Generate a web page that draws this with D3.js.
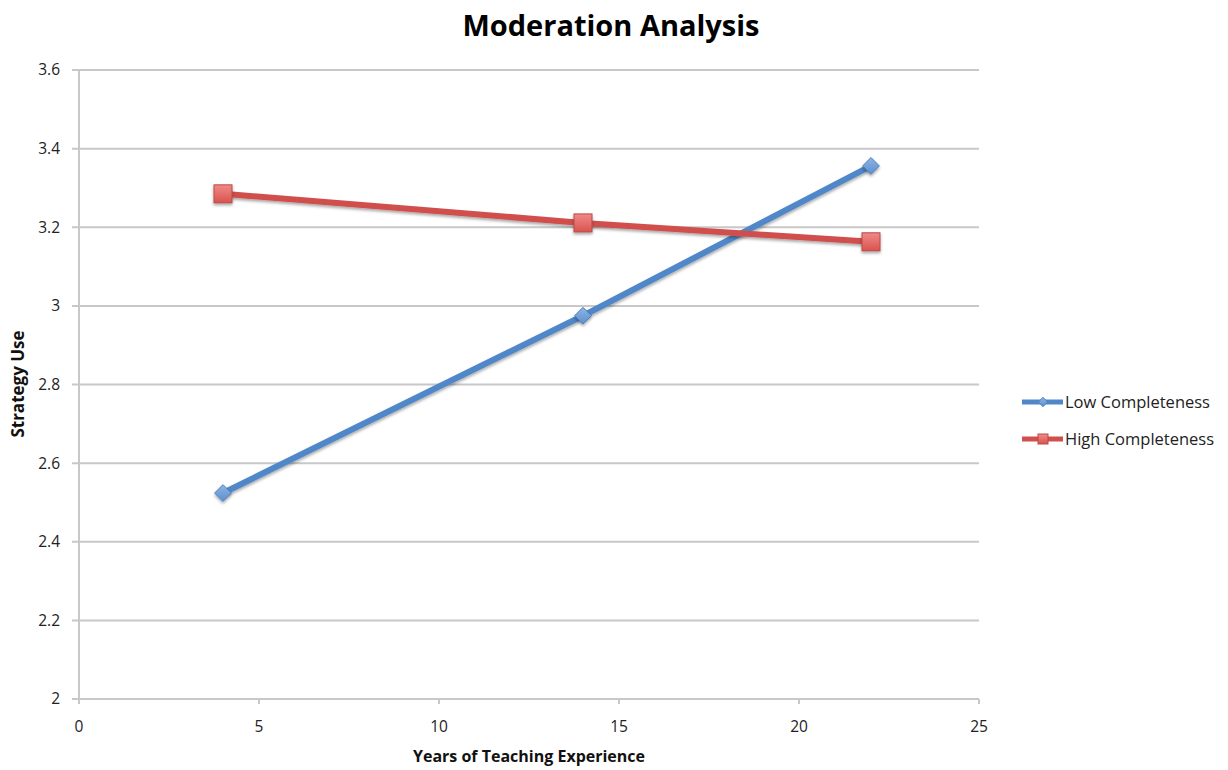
<!DOCTYPE html>
<html>
<head>
<meta charset="utf-8">
<script src="https://cdn.jsdelivr.net/npm/d3@7"></script>
<style>
  html, body { margin: 0; padding: 0; background: #fff; }
  svg { display: block; font-family: "Open Sans", "Noto Sans", sans-serif; }
</style>
</head>
<body>
<svg id="chart" width="1228" height="770"></svg>
<script>
// Years of teaching experience at which the moderation lines are evaluated
const years = [4, 14, 22];
// Predicted strategy use for each completeness group
const lowCompleteness = [2.524, 2.975, 3.356];
const highCompleteness = [3.285, 3.211, 3.163];
const seriesNames = ["Low Completeness", "High Completeness"];
const xTicks = [0, 5, 10, 15, 20, 25];
const yTicks = [2, 2.2, 2.4, 2.6, 2.8, 3, 3.2, 3.4, 3.6];

const svg = d3.select("#chart");
const plotLeft = 79, plotRight = 979, plotTop = 70, plotBottom = 699;

const x = d3.scaleLinear().domain([0, 25]).range([plotLeft, plotRight]);
const y = d3.scaleLinear().domain([2, 3.6]).range([plotBottom, plotTop]);

const defs = svg.append("defs");
const shadow = defs.append("filter").attr("id", "shadow")
  .attr("x", "-50%").attr("y", "-50%").attr("width", "200%").attr("height", "200%");
shadow.append("feDropShadow").attr("dx", 0).attr("dy", 2).attr("stdDeviation", 1.5)
  .attr("flood-color", "#000").attr("flood-opacity", 0.35);

function grad(id, c1, c2) {
  const g = defs.append("linearGradient").attr("id", id)
    .attr("x1", 0).attr("y1", 0).attr("x2", 0).attr("y2", 1);
  g.append("stop").attr("offset", "0%").attr("stop-color", c1);
  g.append("stop").attr("offset", "100%").attr("stop-color", c2);
}
grad("blueFill", "#8fb4e3", "#5d8fcf");
grad("redFill", "#f08a87", "#d9534f");

// Horizontal gridlines
const gridColor = "#c8c8c8";
svg.append("g").selectAll("line").data(yTicks).join("line")
  .attr("x1", plotLeft - 7).attr("x2", plotRight)
  .attr("y1", d => y(d)).attr("y2", d => y(d))
  .attr("stroke", gridColor).attr("stroke-width", 2);

// Y axis line
svg.append("line").attr("x1", plotLeft).attr("x2", plotLeft)
  .attr("y1", plotTop).attr("y2", plotBottom + 5)
  .attr("stroke", gridColor).attr("stroke-width", 2);

// X axis ticks
svg.append("g").selectAll("line").data(xTicks).join("line")
  .attr("x1", d => x(d)).attr("x2", d => x(d))
  .attr("y1", plotBottom).attr("y2", plotBottom + 5)
  .attr("stroke", gridColor).attr("stroke-width", 2);

// Y tick labels
svg.append("g").selectAll("text").data(yTicks).join("text")
  .attr("x", plotLeft - 19).attr("y", d => y(d))
  .attr("dy", "0.35em").attr("text-anchor", "end")
  .attr("font-size", 15.5).attr("fill", "#222")
  .text(d => d3.format("~g")(d));

// X tick labels
svg.append("g").selectAll("text").data(xTicks).join("text")
  .attr("x", d => x(d)).attr("y", plotBottom + 33)
  .attr("text-anchor", "middle")
  .attr("font-size", 15.5).attr("fill", "#222")
  .text(d => d);

// Titles
svg.append("text").attr("x", 611).attr("y", 36)
  .attr("text-anchor", "middle").attr("font-size", 29).attr("font-weight", "bold")
  .attr("fill", "#000").text("Moderation Analysis");

svg.append("text").attr("x", 529).attr("y", 762)
  .attr("text-anchor", "middle").attr("font-size", 16).attr("font-weight", "bold")
  .attr("fill", "#111").text("Years of Teaching Experience");

svg.append("text").attr("transform", "translate(24,384) rotate(-90)")
  .attr("text-anchor", "middle").attr("font-size", 17).attr("font-weight", "bold")
  .attr("fill", "#111").text("Strategy Use");

const line = d3.line().x(d => x(d[0])).y(d => y(d[1]));

const series = [
  { name: seriesNames[0], values: lowCompleteness, color: "#4f87c8", fill: "url(#blueFill)", stroke: "#4a7fc0", shape: "diamond" },
  { name: seriesNames[1], values: highCompleteness, color: "#d0504d", fill: "url(#redFill)", stroke: "#b94a47", shape: "square" }
];

function marker(g, s, size) {
  if (s.shape === "diamond") {
    g.append("path").attr("d", d3.symbol(d3.symbolDiamond2, size * size * 0.55)())
      .attr("fill", s.fill).attr("stroke", s.stroke).attr("stroke-width", 1);
  } else {
    g.append("rect").attr("x", -size / 2).attr("y", -size / 2)
      .attr("width", size).attr("height", size)
      .attr("fill", s.fill).attr("stroke", s.stroke).attr("stroke-width", 1);
  }
}

series.forEach(s => {
  const pts = years.map((yr, i) => [yr, s.values[i]]);
  svg.append("path").datum(pts).attr("d", line)
    .attr("fill", "none").attr("stroke", s.color).attr("stroke-width", 6)
    .attr("filter", "url(#shadow)");
  pts.forEach(p => {
    const g = svg.append("g").attr("transform", `translate(${x(p[0])},${y(p[1])})`)
      .attr("filter", "url(#shadow)");
    marker(g, s, 18);
  });
});

// Legend
const legend = svg.append("g");
series.forEach((s, i) => {
  const ly = 402 + i * 37;
  legend.append("line").attr("x1", 1022).attr("x2", 1063)
    .attr("y1", ly).attr("y2", ly)
    .attr("stroke", s.color).attr("stroke-width", 5);
  const g = legend.append("g").attr("transform", `translate(1043,${ly})`);
  marker(g, s, 10);
  legend.append("text").attr("x", 1065).attr("y", ly).attr("dy", "0.35em")
    .attr("font-size", 16.5).attr("fill", "#222").text(s.name);
});
</script>
</body>
</html>
